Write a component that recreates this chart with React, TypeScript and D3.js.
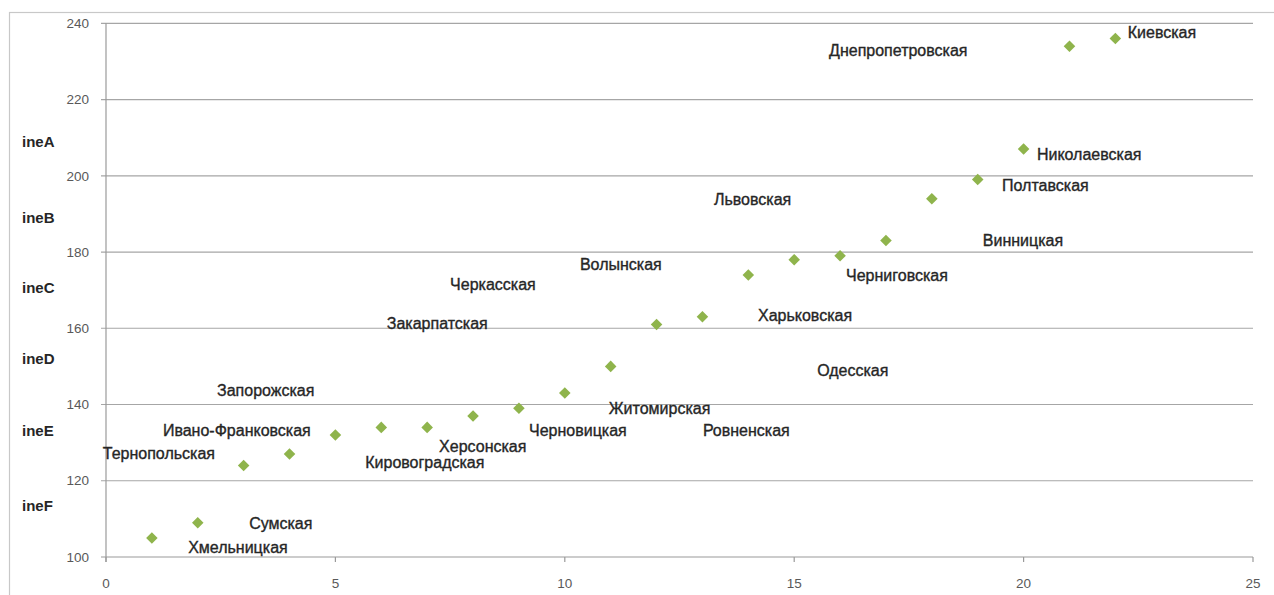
import React from "react";
import * as d3 from "d3";

const xValues = [1, 2, 3, 4, 5, 6, 7, 8, 9, 10, 11, 12, 13, 14, 15, 16, 17, 18, 19, 20, 21, 22];
const yValues = [105, 109, 124, 127, 132, 134, 134, 137, 139, 143, 150, 161, 163, 174, 178, 179, 183, 194, 199, 207, 234, 236];

const regionNames = [
  "Хмельницкая", "Сумская", "Тернопольская", "Ивано-Франковская", "Запорожская",
  "Кировоградская", "Херсонская", "Закарпатская", "Черновицкая", "Черкасская",
  "Житомирская", "Волынская", "Ровненская", "Львовская", "Харьковская",
  "Черниговская", "Одесская", "Винницкая", "Полтавская", "Николаевская",
  "Днепропетровская", "Киевская",
];
// label anchor (left edge, vertical middle) in data units
const labelX = [1.79, 3.12, -0.07, 1.24, 2.42, 5.65, 7.26, 6.12, 9.22, 7.5, 10.96, 10.33, 13.01, 13.25, 14.21, 16.13, 15.5, 19.11, 19.53, 20.29, 15.76, 22.27];
const labelY = [102.6, 108.9, 127.3, 133.3, 143.8, 124.9, 129.1, 161.4, 133.3, 171.6, 139.1, 176.8, 133.3, 193.9, 163.5, 173.9, 149.0, 183.1, 197.5, 205.7, 232.9, 237.7];

const xTicks = [0, 5, 10, 15, 20, 25];
const yTicks = [100, 120, 140, 160, 180, 200, 220, 240];
const bandLabels = ["ineA", "ineB", "ineC", "ineD", "ineE", "ineF"];
const bandValues = [209, 189, 170.5, 152, 133, 113.5];

export default function App() {
  const W = 1274, H = 595;
  const x = d3.scaleLinear().domain([0, 25]).range([106, 1253]);
  const y = d3.scaleLinear().domain([100, 240]).range([557, 23.3]);
  const diamond = d3.symbol().type(d3.symbolDiamond2).size(85)();
  const font = "'Liberation Sans', Arial, sans-serif";

  return (
    <svg width={W} height={H} style={{ position: "fixed", left: 0, top: 0, background: "#fff" }}>
      <rect x={9.5} y={12.5} width={1300} height={700} fill="#fff" stroke="#c8c8c8" strokeWidth={1.2} />
      {yTicks.map((t) => (
        <g key={"g" + t}>
          <line x1={101} x2={x(25)} y1={y(t)} y2={y(t)} stroke={t === 100 ? "#9a9a9a" : "#a6a6a6"} strokeWidth={1.2} />
          <text x={89} y={y(t)} dy="0.35em" textAnchor="end" fontSize={13.5} fill="#595959" fontFamily={font}>{t}</text>
        </g>
      ))}
      <line x1={x(0)} x2={x(0)} y1={y(240)} y2={y(100) + 5} stroke="#9a9a9a" strokeWidth={1.2} />
      {xTicks.map((t) => (
        <g key={"x" + t}>
          <line x1={x(t)} x2={x(t)} y1={y(100)} y2={y(100) + 5} stroke="#9a9a9a" strokeWidth={1.2} />
          <text x={x(t)} y={583} dy="0.35em" textAnchor="middle" fontSize={13.5} fill="#595959" fontFamily={font}>{t}</text>
        </g>
      ))}
      {bandLabels.map((b, i) => (
        <text key={b} x={22} y={y(bandValues[i])} dy="0.35em" fontSize={15} fontWeight="bold" fill="#262626" fontFamily={font}>{b}</text>
      ))}
      {xValues.map((v, i) => (
        <path key={"p" + i} d={diamond} transform={`translate(${x(v)},${y(yValues[i])})`} fill="#8fb44c" />
      ))}
      {regionNames.map((n, i) => (
        <text key={n} x={x(labelX[i])} y={y(labelY[i])} dy="0.35em" fontSize={16} fill="#262626" stroke="#262626" strokeWidth={0.35} fontFamily={font}>{n}</text>
      ))}
    </svg>
  );
}
